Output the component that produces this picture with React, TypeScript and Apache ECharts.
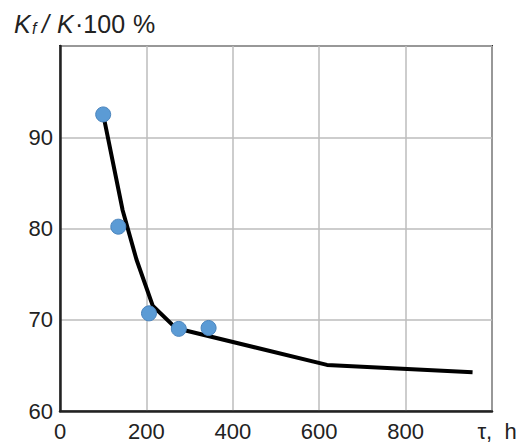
import React, { useEffect, useRef } from "react";
import * as echarts from "echarts";

// Measured points (blue dots)
const tauPoints = [100, 135, 206, 275, 344];
const kPoints = [92.5, 80.2, 70.7, 69.0, 69.1];

// Fitted curve (black line)
const curveTau = [100, 145, 177, 215, 270, 293, 618, 955];
const curveK = [92.5, 82.0, 76.6, 71.5, 69.0, 68.8, 65.05, 64.25];

// Axis tick labels
const xTickValues = [0, 200, 400, 600, 800, 1000];
const xTickLabels = ["0", "200", "400", "600", "800", "τ,  h"];
const yTickValues = [60, 70, 80, 90];

export default function App() {
  const ref = useRef<HTMLDivElement>(null);

  useEffect(() => {
    if (!ref.current) return;
    const chart = echarts.init(ref.current, undefined, { renderer: "svg" });
    const font = "'Liberation Sans', Arial, sans-serif";
    const option: any = {
      animation: false,
      backgroundColor: "#ffffff",
      grid: {
        left: 60,
        top: 46,
        right: 32,
        bottom: 35,
        show: true,
        borderColor: "#2e2e2e",
        borderWidth: 2,
        backgroundColor: "transparent",
      },
      xAxis: {
        type: "value",
        min: 0,
        max: 1000,
        interval: 200,
        axisLine: { show: true, lineStyle: { color: "#222", width: 2.5 } },
        axisTick: { show: false },
        splitLine: { show: true, lineStyle: { color: "#bdbdbd", width: 1.5 } },
        axisLabel: {
          margin: 9,
          fontFamily: font,
          fontSize: 22,
          color: "#222",
          formatter: (v: number) => {
            const i = xTickValues.indexOf(v);
            if (i < 0) return "";
            if (i === xTickLabels.length - 1) return "{tau|" + xTickLabels[i] + "}";
            return xTickLabels[i];
          },
          rich: {
            tau: {
              fontFamily: font,
              fontSize: 22,
              color: "#222",
              padding: [0, 0, 0, 10],
            },
          },
        },
      },
      yAxis: {
        type: "value",
        min: 60,
        max: 100,
        interval: 10,
        axisLine: { show: true, lineStyle: { color: "#222", width: 2.5 } },
        axisTick: { show: false },
        splitLine: { show: true, lineStyle: { color: "#bdbdbd", width: 1.5 } },
        axisLabel: {
          margin: 7,
          fontFamily: font,
          fontSize: 22,
          color: "#222",
          formatter: (v: number) => (yTickValues.indexOf(v) >= 0 ? String(v) : ""),
        },
      },
      graphic: [
        { type: "text", x: 14, y: 24, style: { text: "K", font: "italic 25px " + font, fill: "#222", verticalAlign: "middle" } },
        { type: "text", x: 32, y: 28, style: { text: "f", font: "italic 16px " + font, fill: "#222", verticalAlign: "middle" } },
        { type: "text", x: 42, y: 24, style: { text: "/", font: "italic 25px " + font, fill: "#222", verticalAlign: "middle" } },
        { type: "text", x: 57, y: 24, style: { text: "K", font: "italic 25px " + font, fill: "#222", verticalAlign: "middle" } },
        { type: "text", x: 75, y: 24, style: { text: "·100", font: "25px " + font, fill: "#222", verticalAlign: "middle" } },
        { type: "text", x: 133, y: 24, style: { text: "%", font: "25px " + font, fill: "#222", verticalAlign: "middle" } },
      ],
      series: [
        {
          type: "line",
          data: curveTau.map((t, i) => [t, curveK[i]]),
          symbol: "none",
          lineStyle: { color: "#000", width: 4 },
          z: 2,
        },
        {
          type: "scatter",
          data: tauPoints.map((t, i) => [t, kPoints[i]]),
          symbolSize: 15,
          itemStyle: { color: "#5b9bd5", borderColor: "#4a84bd", borderWidth: 1, opacity: 1 },
          z: 3,
        },
      ],
    };
    chart.setOption(option);
    return () => chart.dispose();
  }, []);

  return <div ref={ref} style={{ width: 524, height: 446, position: "absolute", left: 0, top: 0 }} />;
}
